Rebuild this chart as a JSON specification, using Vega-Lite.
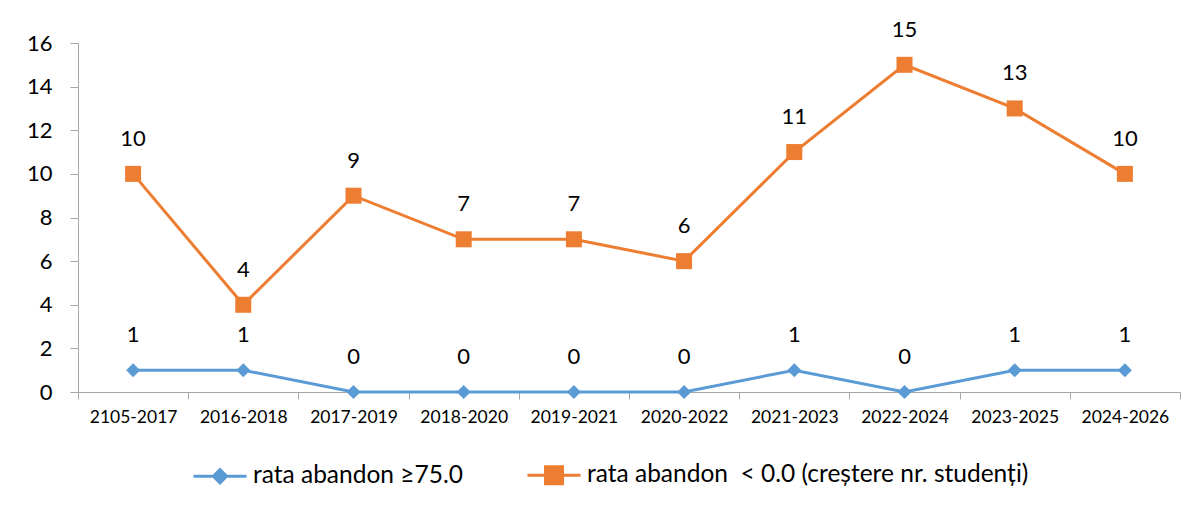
{
  "$schema": "https://vega.github.io/schema/vega-lite/v6.json",
  "width": 1102,
  "height": 349,
  "autosize": {"type": "none"},
  "padding": {"left": 78, "top": 43, "right": 16, "bottom": 114},
  "background": "white",
  "config": {"view": {"stroke": null}, "font": "Lato"},
  "data": {
    "values": [
      {"period": "2105-2017", "series": "rata abandon ≥75.0", "value": 1},
      {"period": "2016-2018", "series": "rata abandon ≥75.0", "value": 1},
      {"period": "2017-2019", "series": "rata abandon ≥75.0", "value": 0},
      {"period": "2018-2020", "series": "rata abandon ≥75.0", "value": 0},
      {"period": "2019-2021", "series": "rata abandon ≥75.0", "value": 0},
      {"period": "2020-2022", "series": "rata abandon ≥75.0", "value": 0},
      {"period": "2021-2023", "series": "rata abandon ≥75.0", "value": 1},
      {"period": "2022-2024", "series": "rata abandon ≥75.0", "value": 0},
      {"period": "2023-2025", "series": "rata abandon ≥75.0", "value": 1},
      {"period": "2024-2026", "series": "rata abandon ≥75.0", "value": 1},
      {"period": "2105-2017", "series": "rata abandon\u00a0 < 0.0 (creștere nr. studenți)", "value": 10},
      {"period": "2016-2018", "series": "rata abandon\u00a0 < 0.0 (creștere nr. studenți)", "value": 4},
      {"period": "2017-2019", "series": "rata abandon\u00a0 < 0.0 (creștere nr. studenți)", "value": 9},
      {"period": "2018-2020", "series": "rata abandon\u00a0 < 0.0 (creștere nr. studenți)", "value": 7},
      {"period": "2019-2021", "series": "rata abandon\u00a0 < 0.0 (creștere nr. studenți)", "value": 7},
      {"period": "2020-2022", "series": "rata abandon\u00a0 < 0.0 (creștere nr. studenți)", "value": 6},
      {"period": "2021-2023", "series": "rata abandon\u00a0 < 0.0 (creștere nr. studenți)", "value": 11},
      {"period": "2022-2024", "series": "rata abandon\u00a0 < 0.0 (creștere nr. studenți)", "value": 15},
      {"period": "2023-2025", "series": "rata abandon\u00a0 < 0.0 (creștere nr. studenți)", "value": 13},
      {"period": "2024-2026", "series": "rata abandon\u00a0 < 0.0 (creștere nr. studenți)", "value": 10}
    ]
  },
  "encoding": {
    "x": {
      "field": "period", "type": "ordinal", "sort": null,
      "scale": {"type": "band", "paddingInner": 0, "paddingOuter": 0},
      "axis": {
        "title": null, "labelAngle": 0, "labelFontSize": 17.5, "labelColor": "#000000",
        "domainColor": "#a6a6a6", "tickColor": "#a6a6a6", "tickSize": 7, "tickBand": "extent",
        "labelPadding": 9, "grid": false
      }
    },
    "y": {
      "field": "value", "type": "quantitative",
      "scale": {"domain": [0, 16], "nice": false},
      "axis": {
        "title": null, "values": [0, 2, 4, 6, 8, 10, 12, 14, 16], "labelFontSize": 22,
        "labelColor": "#000000", "domainColor": "#a6a6a6", "tickColor": "#a6a6a6",
        "tickSize": 8, "labelPadding": 18, "grid": false
      }
    },
    "color": {
      "field": "series", "type": "nominal",
      "scale": {
        "domain": ["rata abandon ≥75.0", "rata abandon\u00a0 < 0.0 (creștere nr. studenți)"],
        "range": ["#5B9BD5", "#ED7D31"]
      },
      "legend": null
    }
  },
  "layer": [
    {
      "mark": {"type": "line", "strokeWidth": 3},
      "encoding": {
        "color": {
          "field": "series", "type": "nominal",
          "scale": {
            "domain": ["rata abandon ≥75.0", "rata abandon\u00a0 < 0.0 (creștere nr. studenți)"],
            "range": ["#5B9BD5", "#ED7D31"]
          },
          "legend": {
            "title": null, "orient": "none", "legendX": 114, "legendY": 404, "direction": "horizontal",
            "labelFontSize": 24.5, "labelColor": "#000000", "labelLimit": 700,
            "symbolSize": 2809, "symbolStrokeWidth": 3, "columnPadding": 58, "labelOffset": 5,
            "encode": {
              "symbols": {
                "update": {
                  "shape": {"signal": "datum.value === 'rata abandon ≥75.0' ? 'M-1,0H1M0,-0.25L0.25,0L0,0.25L-0.25,0Z' : 'M-1,0H1M-0.32,-0.32H0.32V0.32H-0.32Z'"},
                  "fill": {"signal": "scale('color', datum.value)"},
                  "stroke": {"signal": "scale('color', datum.value)"},
                  "strokeWidth": {"value": 3},
                  "opacity": {"value": 1},
                  "fillOpacity": {"value": 1}
                }
              }
            }
          }
        }
      }
    },
    {
      "transform": [{"filter": "datum.series === 'rata abandon ≥75.0'"}],
      "mark": {"type": "point", "shape": "diamond", "filled": true, "size": 196, "opacity": 1}
    },
    {
      "transform": [{"filter": "datum.series !== 'rata abandon ≥75.0'"}],
      "mark": {"type": "point", "shape": "square", "filled": true, "size": 256, "opacity": 1}
    },
    {
      "mark": {"type": "text", "dy": -35, "fontSize": 22, "color": "#000000", "baseline": "middle"},
      "encoding": {
        "text": {"field": "value", "type": "quantitative"},
        "color": {"value": "#000000"}
      }
    }
  ]
}
